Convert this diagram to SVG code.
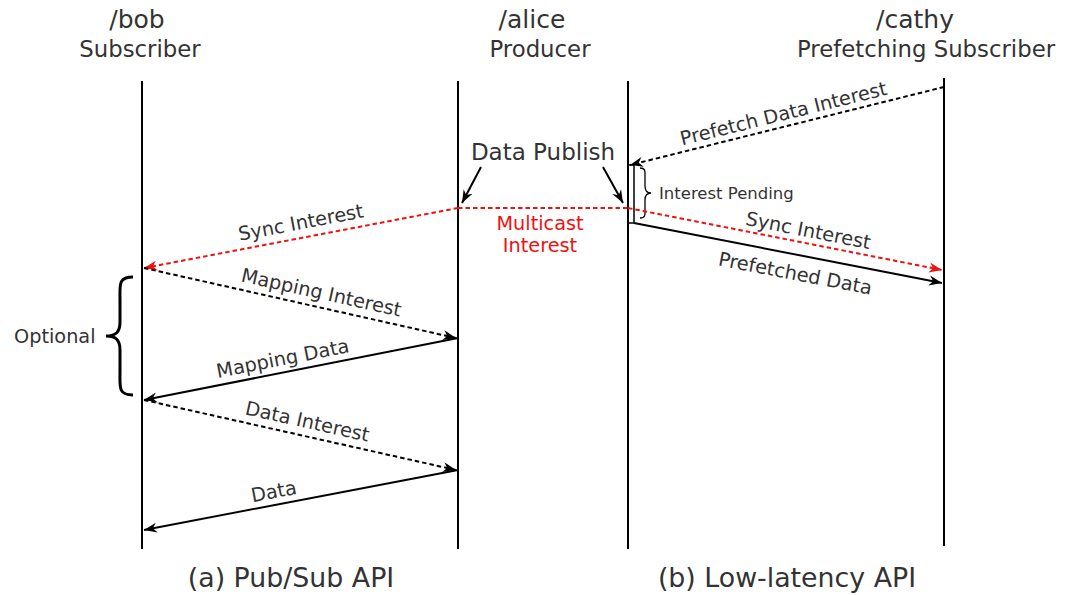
<svg xmlns="http://www.w3.org/2000/svg" width="1067" height="595" viewBox="0 0 1067 595">
<style>
text{font-family:"DejaVu Sans","Liberation Sans",sans-serif;fill:#333}
.h1{font-size:25px}
.h2{font-size:22.8px}
.lbl{font-size:19.3px}
.cap{font-size:23px}
.foot{font-size:26.8px}
.life{stroke:#000;stroke-width:2;fill:none}
.msg{stroke:#000;stroke-width:2;fill:none}
.dash{stroke-dasharray:4.5 3}
.red{stroke:#f01010}
</style>
<defs>
<marker id="ah" markerWidth="14" markerHeight="12" refX="13" refY="6" orient="auto" markerUnits="userSpaceOnUse">
<path d="M0,1 L13,6 L0,11 L4,6 z" fill="#000"/>
</marker>
<marker id="ahr" markerWidth="14" markerHeight="12" refX="13" refY="6" orient="auto" markerUnits="userSpaceOnUse">
<path d="M0,1 L13,6 L0,11 L4,6 z" fill="#f01010"/>
</marker>
</defs>
<rect width="1067" height="595" fill="#fff"/>

<g id="bob">
<text class="h1" x="137" y="28" text-anchor="middle">/bob</text>
<text class="h2" x="140" y="57" text-anchor="middle">Subscriber</text>
<line class="life" x1="142" y1="81" x2="142" y2="549"/>
</g>
<g id="alice">
<text class="h1" x="532" y="28" text-anchor="middle">/alice</text>
<text class="h2" x="540" y="57" text-anchor="middle">Producer</text>
<line class="life" x1="458" y1="81" x2="458" y2="549"/>
<line class="life" x1="628" y1="81" x2="628" y2="549"/>
</g>
<g id="cathy">
<text class="h1" x="915" y="28" text-anchor="middle">/cathy</text>
<text class="h2" x="926" y="57" text-anchor="middle">Prefetching Subscriber</text>
<line class="life" x1="944" y1="78" x2="944" y2="546"/>
</g>

<g id="optional">
<path d="M133,277 C118,277 120,285 120,300 L120,322 C120,332 116,336 106,336 C116,336 120,340 120,350 L120,372 C120,387 118,395 133,395" fill="none" stroke="#000" stroke-width="3"/>
<text x="14" y="343" style="font-size:19.3px">Optional</text>
</g>

<g id="pending">
<rect x="628" y="165" width="6" height="58" fill="none" stroke="#000" stroke-width="1.5"/>
<path d="M640,168 C646,168 645,172 645,178 L645,186 C645,190 647,193 651,193 C647,193 645,196 645,200 L645,208 C645,214 646,218 640,218" fill="none" stroke="#000" stroke-width="1.3"/>
<text x="659" y="199" style="font-size:16.5px">Interest Pending</text>
</g>

<g id="connectors">
<line class="msg dash red" x1="458" y1="208" x2="144" y2="268" marker-end="url(#ahr)"/>
<line class="msg dash" x1="144" y1="268" x2="456" y2="338" marker-end="url(#ah)"/>
<line class="msg" x1="458" y1="338" x2="144" y2="400" marker-end="url(#ah)"/>
<line class="msg dash" x1="144" y1="400" x2="456" y2="470" marker-end="url(#ah)"/>
<line class="msg" x1="458" y1="470" x2="144" y2="530" marker-end="url(#ah)"/>
<line class="msg dash red" x1="458" y1="208" x2="628" y2="208"/>
<line class="msg dash red" x1="628" y1="208" x2="942" y2="270" marker-end="url(#ahr)"/>
<line class="msg dash" x1="944" y1="87" x2="630" y2="165" marker-end="url(#ah)"/>
<line class="msg" x1="634" y1="223" x2="942" y2="283" marker-end="url(#ah)"/>
<line class="msg" x1="481" y1="167" x2="462" y2="203" marker-end="url(#ah)"/>
<line class="msg" x1="603" y1="167" x2="623" y2="203" marker-end="url(#ah)"/>
</g>

<g id="labels">
<text class="cap" x="543" y="160" text-anchor="middle">Data Publish</text>
<text class="lbl" x="540" y="230" text-anchor="middle" style="fill:#f01010">Multicast</text>
<text class="lbl" x="540" y="252" text-anchor="middle" style="fill:#f01010">Interest</text>
<text class="lbl" text-anchor="middle" transform="translate(302,229) rotate(-10.75)">Sync Interest</text>
<text class="lbl" text-anchor="middle" transform="translate(320,299) rotate(12.5)">Mapping Interest</text>
<text class="lbl" text-anchor="middle" transform="translate(284,365) rotate(-11.1)">Mapping Data</text>
<text class="lbl" text-anchor="middle" transform="translate(306,428) rotate(12.5)">Data Interest</text>
<text class="lbl" text-anchor="middle" transform="translate(275,498) rotate(-10.75)">Data</text>
<text class="lbl" text-anchor="middle" transform="translate(785,120) rotate(-13.95)">Prefetch Data Interest</text>
<text class="lbl" text-anchor="middle" transform="translate(807,237) rotate(11.1)">Sync Interest</text>
<text class="lbl" text-anchor="middle" transform="translate(794,280) rotate(10.9)">Prefetched Data</text>
<text class="foot" x="291" y="587" text-anchor="middle">(a) Pub/Sub API</text>
<text class="foot" x="787" y="587" text-anchor="middle">(b) Low-latency API</text>
</g>
</svg>
